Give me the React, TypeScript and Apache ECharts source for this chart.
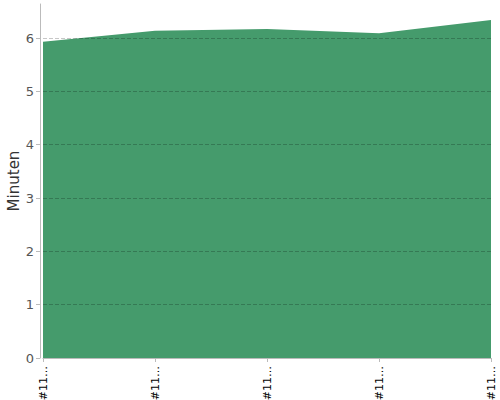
import { useRef, useEffect } from 'react'
import * as echarts from 'echarts'

const categories = ['#1101', '#1102', '#1103', '#1104', '#1105']
const minutes = [5.93, 6.14, 6.17, 6.09, 6.34]
const yTicks = [0, 1, 2, 3, 4, 5, 6]

export default function App() {
  const chartRef = useRef<HTMLDivElement>(null)

  useEffect(() => {
    if (!chartRef.current) return
    const chart = echarts.init(chartRef.current, undefined, { renderer: 'svg' })

    chart.setOption({
      animation: false,
      backgroundColor: '#fff',
      textStyle: { fontFamily: 'DejaVu Sans' },
      grid: { left: 43, right: 9, top: 4, bottom: 42, outerBoundsMode: 'none', containLabel: false },
      xAxis: {
        type: 'category',
        data: categories,
        boundaryGap: false,
        offset: 4,
        axisLine: { lineStyle: { color: '#bbb', width: 1 } },
        axisTick: { length: 4, lineStyle: { color: '#bbb' } },
        axisLabel: {
          rotate: 90,
          color: '#000',
          fontSize: 11,
          margin: 4,
          formatter: (v: string) => v.slice(0, 3) + '…',
        },
      },
      yAxis: {
        type: 'value',
        min: 0,
        max: 6.64,
        interval: 1,
        offset: 3,
        z: 3,
        name: 'Minuten',
        nameLocation: 'middle',
        nameGap: 19,
        nameMoveOverlap: false,
        nameTextStyle: { color: '#333', fontSize: 15, fontWeight: 500 },
        axisLine: { show: true, lineStyle: { color: '#bbb', width: 1 } },
        axisTick: { show: true, length: 4, lineStyle: { color: '#bbb' }, customValues: yTicks },
        axisLabel: { color: '#555', fontSize: 13, margin: 6, customValues: yTicks },
        splitLine: {
          show: true,
          showMinLine: false,
          lineStyle: { color: 'rgba(0,0,0,0.22)', type: [4, 2], width: 1 },
        },
      },
      series: [
        {
          type: 'line',
          data: minutes,
          symbol: 'none',
          z: 1,
          lineStyle: { width: 0 },
          areaStyle: { color: '#459b6c', opacity: 1 },
        },
      ],
    })

    return () => chart.dispose()
  }, [])

  return (
    <div
      ref={chartRef}
      style={{ position: 'absolute', left: 0, top: 0, width: 500, height: 400 }}
    />
  )
}
